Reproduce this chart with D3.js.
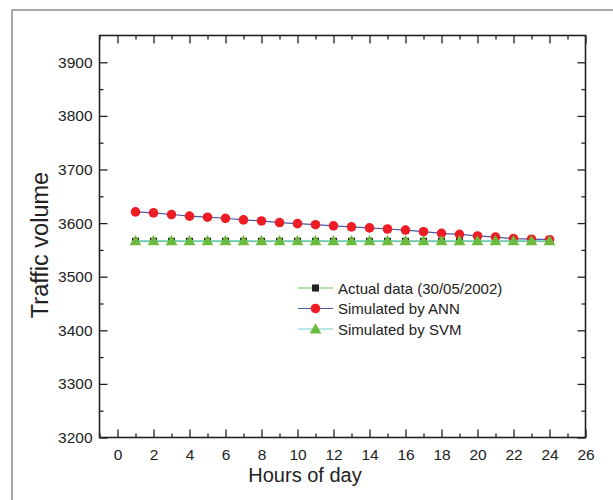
<!DOCTYPE html>
<html><head><meta charset="utf-8">
<script src="https://cdn.jsdelivr.net/npm/d3@7"></script>
<style>html,body{margin:0;padding:0;background:#fff;}svg{display:block;font-family:"Liberation Sans",Arial,sans-serif;}</style>
</head><body><svg id="c" width="613" height="500"></svg>
<script>
const hours = [1,2,3,4,5,6,7,8,9,10,11,12,13,14,15,16,17,18,19,20,21,22,23,24];
const actual = [3566,3566,3566,3566,3566,3566,3566,3566,3566,3566,3566,3566,3566,3566,3566,3566,3566,3566,3566,3566,3566,3566,3566,3566];
const ann = [3621,3619,3616,3613,3611,3609,3606,3604,3601,3599,3597,3595,3593,3591,3589,3587,3584,3581,3579,3576,3574,3571,3570,3569];
const svm = [3567,3567,3567,3567,3567,3567,3567,3567,3567,3567,3567,3567,3567,3567,3567,3567,3567,3567,3567,3567,3567,3567,3567,3567];
const xTicks = [0,2,4,6,8,10,12,14,16,18,20,22,24,26];
const yTicks = [3200,3300,3400,3500,3600,3700,3800,3900];
const seriesNames = ["Actual data (30/05/2002)","Simulated by ANN","Simulated by SVM"];

const svg = d3.select("#c");
const L=99.5, R=585.5, T=35.5, B=437.5;
const x = d3.scaleLinear().domain([-1,26]).range([L,R]);
const y = d3.scaleLinear().domain([3200,3950]).range([B,T]);

// outer frame
svg.append("rect").attr("x",12).attr("y",10).attr("width",700).attr("height",600)
  .attr("fill","none").attr("stroke","#8a8a8a").attr("stroke-width",1.5);

const xMinor = d3.range(-1,27,1).filter(v=>v%2!==0);
const yMinor = d3.range(3250,3950,100);

function tickGroup(axisGen, tx, ty){
  const g = svg.append("g").attr("transform",`translate(${tx},${ty})`).call(axisGen);
  g.select(".domain").remove();
  g.selectAll("line").attr("stroke","#222").attr("stroke-width",1.3);
  return g;
}
// bottom
tickGroup(d3.axisTop(x).tickValues(xTicks).tickSize(8).tickFormat(""),0,B);
tickGroup(d3.axisTop(x).tickValues(xMinor).tickSize(4).tickFormat(""),0,B);
// top
tickGroup(d3.axisBottom(x).tickValues(xTicks).tickSize(8).tickFormat(""),0,T);
tickGroup(d3.axisBottom(x).tickValues(xMinor).tickSize(4).tickFormat(""),0,T);
// left
tickGroup(d3.axisRight(y).tickValues(yTicks).tickSize(8).tickFormat(""),L,0);
tickGroup(d3.axisRight(y).tickValues(yMinor).tickSize(4).tickFormat(""),L,0);
// right
tickGroup(d3.axisLeft(y).tickValues(yTicks).tickSize(8).tickFormat(""),R,0);
tickGroup(d3.axisLeft(y).tickValues(yMinor).tickSize(4).tickFormat(""),R,0);

// tick labels
const xl = svg.append("g").attr("transform",`translate(0,${B})`)
  .call(d3.axisBottom(x).tickValues(xTicks).tickSize(0).tickPadding(11).tickFormat(d3.format("d")));
xl.select(".domain").remove();
xl.selectAll("text").attr("font-size",15.5).attr("fill","#222").attr("font-family","Liberation Sans, Arial, sans-serif");
const yl = svg.append("g").attr("transform",`translate(${L},0)`)
  .call(d3.axisLeft(y).tickValues(yTicks).tickSize(0).tickPadding(7).tickFormat(d3.format("d")));
yl.select(".domain").remove();
yl.selectAll("text").attr("font-size",15.5).attr("fill","#222").attr("font-family","Liberation Sans, Arial, sans-serif");

// plot border
svg.append("rect").attr("x",L).attr("y",T).attr("width",R-L).attr("height",B-T)
  .attr("fill","none").attr("stroke","#222").attr("stroke-width",1.6);

// axis titles
svg.append("text").attr("x",305).attr("y",482).attr("text-anchor","middle")
  .attr("font-size",20).attr("fill","#222").text("Hours of day");
svg.append("text").attr("transform","translate(48,245) rotate(-90)").attr("text-anchor","middle")
  .attr("font-size",23.5).attr("fill","#222").text("Traffic volume");

const colors = {actLine:"#6cc24a", annLine:"#4a5aa8", svmLine:"#6fcfd0", red:"#ee1c25", green:"#6cbb3c"};
const line = d3.line().x((d,i)=>x(hours[i])).y(d=>y(d));
const tri = d3.symbol().type(d3.symbolTriangle).size(60);
const sq = d3.symbol().type(d3.symbolSquare).size(50);

// actual
svg.append("path").datum(actual).attr("d",line).attr("fill","none").attr("stroke",colors.actLine).attr("stroke-width",1.2);
svg.selectAll(".sq").data(actual).join("path").attr("d",sq)
  .attr("transform",(d,i)=>`translate(${x(hours[i])},${y(d)})`).attr("fill","#222");
// ANN
svg.append("path").datum(ann).attr("d",line).attr("fill","none").attr("stroke",colors.annLine).attr("stroke-width",1.2);
svg.selectAll(".ci").data(ann).join("circle").attr("cx",(d,i)=>x(hours[i])).attr("cy",d=>y(d))
  .attr("r",4.8).attr("fill",colors.red);
// SVM
svg.append("path").datum(svm).attr("d",line).attr("fill","none").attr("stroke",colors.svmLine).attr("stroke-width",1.2);
svg.selectAll(".tr").data(svm).join("path").attr("d",tri)
  .attr("transform",(d,i)=>`translate(${x(hours[i])},${y(d)+1})`).attr("fill",colors.green);

// legend
const lg = svg.append("g").attr("transform","translate(298,288)");
const legendLines = [colors.actLine, colors.annLine, colors.svmLine];
seriesNames.forEach((name,i)=>{
  const gy = i*20.5;
  lg.append("line").attr("x1",0).attr("x2",35).attr("y1",gy).attr("y2",gy).attr("stroke",legendLines[i]).attr("stroke-width",1.2);
  if(i===0) lg.append("path").attr("d",sq).attr("transform",`translate(17.5,${gy})`).attr("fill","#222");
  if(i===1) lg.append("circle").attr("cx",17.5).attr("cy",gy).attr("r",4.8).attr("fill",colors.red);
  if(i===2) lg.append("path").attr("d",tri).attr("transform",`translate(17.5,${gy+1})`).attr("fill",colors.green);
  lg.append("text").attr("x",40).attr("y",gy+5.5).attr("font-size",15).attr("fill","#222").text(name);
});
</script></body></html>
